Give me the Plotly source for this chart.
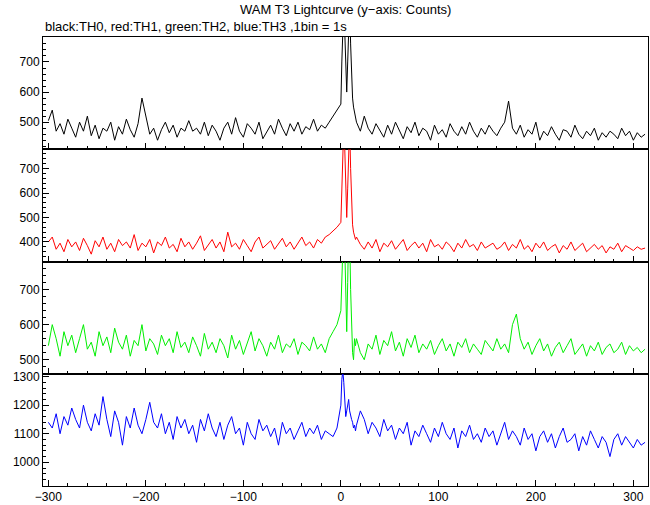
import numpy as np
import plotly.graph_objects as go
from plotly.subplots import make_subplots

# time bins: coarse before/after the burst, 1 s through the burst
t_pre = list(range(-300, 0, 4))
t_burst = list(range(0, 16))
t_post = list(range(16, 313, 4))

th0_pre = [505,540,470,495,460,510,480,450,500,470,520,455,490,445,480,470,500,440,485,460,510,475,450,495,580,520,460,480,440,475,500,465,490,450,480,470,
           505,470,480,460,500,455,490,470,440,480,500,460,515,470,450,495,480,460,500,445,470,490,460,510,480,455,495,470,500,460,485,475,510,470,490,480,500,520,540]
th0_burst = [560,700,850,900,800,640,600,700,880,900,760,620,580,550,530,520]
th0_post = [500,470,520,480,460,495,470,450,490,460,500,470,445,485,465,500,455,480,470,440,490,460,475,450,495,470,455,485,460,500,470,450,480,460,490,470,455,
            480,500,570,480,460,490,450,475,460,500,440,470,455,485,460,440,475,470,450,490,460,445,470,455,480,440,465,450,470,460,445,480,455,470,440,465,450,460]

th1_pre = [400,420,370,395,360,410,380,400,365,415,385,350,405,380,420,370,395,360,410,385,400,375,430,365,395,380,410,355,400,385,420,375,390,360,415,380,
           400,370,395,425,365,390,410,375,400,360,440,380,395,370,410,385,360,400,420,375,390,405,370,395,415,380,400,370,395,420,385,400,375,410,395,420,430,445,460]
th1_burst = [480,650,820,880,780,560,500,620,840,880,700,520,470,440,420,410]
th1_post = [420,390,370,400,375,410,360,395,380,405,370,390,410,365,385,400,375,395,360,410,380,390,370,400,385,360,395,375,410,380,390,365,400,375,385,395,370,
            380,400,365,390,375,410,370,385,360,395,375,400,365,380,390,355,385,370,400,365,380,395,360,375,390,370,385,355,380,370,395,360,385,375,365,380,370,375]

th2_pre = [540,600,560,510,580,540,570,520,560,600,530,550,510,580,540,565,520,590,550,530,570,510,555,540,600,525,560,545,515,570,540,560,520,580,535,550,
           520,565,540,510,575,530,550,520,560,540,505,570,530,555,515,545,580,525,560,540,510,550,530,570,520,545,535,560,515,550,540,525,565,530,545,520,560,580,600]
th2_burst = [640,800,900,900,820,640,580,720,880,860,700,560,520,500,560,540]
th2_post = [560,520,500,545,530,570,515,555,540,580,525,550,510,560,535,570,520,545,530,555,515,540,560,525,545,510,550,535,560,520,545,530,515,555,540,525,560,
            530,545,520,600,630,560,530,550,515,540,560,525,545,510,535,550,520,540,560,515,530,545,510,540,525,550,515,535,545,520,530,550,515,540,525,535,520,530]

th3_pre = [1140,1120,1170,1100,1160,1130,1190,1150,1120,1200,1140,1110,1170,1130,1230,1150,1090,1180,1140,1060,1160,1120,1190,1130,1100,1150,1210,1140,1120,1170,1100,1140,1080,1160,1120,1150,
           1100,1130,1070,1150,1110,1170,1120,1090,1140,1080,1130,1160,1100,1120,1060,1140,1100,1080,1150,1110,1130,1090,1120,1060,1140,1100,1120,1080,1110,1140,1090,1120,1100,1130,1080,1110,1100,1090,1120]
th3_burst = [1200,1290,1320,1280,1200,1160,1180,1200,1220,1180,1160,1150,1140,1120,1130,1110]
th3_post = [1130,1180,1150,1100,1140,1120,1090,1150,1110,1130,1080,1120,1100,1140,1060,1110,1090,1130,1100,1070,1120,1090,1140,1100,1080,1120,1050,1110,1090,1130,1080,1100,1070,1120,1090,1110,1060,
            1100,1140,1080,1110,1090,1060,1120,1080,1100,1040,1090,1110,1070,1100,1050,1090,1120,1070,1080,1100,1040,1090,1060,1110,1080,1050,1090,1070,1020,1080,1100,1060,1090,1070,1050,1080,1060,1070]

t = t_pre + t_burst + t_post
series = [
    (th0_pre + th0_burst + th0_post, 'black', [410, 783], [500, 600, 700]),
    (th1_pre + th1_burst + th1_post, 'red', [320, 779], [400, 500, 600, 700]),
    (th2_pre + th2_burst + th2_post, '#00ee00', [460, 780], [500, 600, 700]),
    (th3_pre + th3_burst + th3_post, 'blue', [917, 1310], [1000, 1100, 1200, 1300]),
]

fig = make_subplots(rows=4, cols=1, shared_xaxes=True, vertical_spacing=0)

for i, (y, col, yr, tv) in enumerate(series, start=1):
    fig.add_trace(go.Scatter(x=t, y=y, mode='lines', line=dict(color=col, width=1),
                             showlegend=False), row=i, col=1)
    fig.update_yaxes(range=yr, tickvals=tv, row=i, col=1)

fig.update_xaxes(range=[-305.5, 315], dtick=100, ticks='inside', ticklen=6,
                 minor=dict(dtick=20, ticks='inside', ticklen=3, tickcolor='black'),
                 showline=True, mirror=True, linecolor='black', linewidth=1, showgrid=False, zeroline=False,
                 tickcolor='black')
fig.update_yaxes(ticks='inside', ticklen=6, minor=dict(ticks='inside', ticklen=3, nticks=5, tickcolor='black'),
                 showline=True, mirror=True, linecolor='black', linewidth=1, showgrid=False, zeroline=False,
                 tickcolor='black')

fig.update_layout(
    width=650, height=505,
    margin=dict(l=43, r=2, t=37, b=19),
    plot_bgcolor='white', paper_bgcolor='white',
    font=dict(family='Liberation Sans, Arial', size=12, color='black'),
    annotations=[
        dict(text='WAM T3 Lightcurve (y\u2212axis: Counts)', xref='paper', yref='paper', x=0.5, y=1, yshift=28,
             showarrow=False, xanchor='center', yanchor='middle', font=dict(size=13)),
        dict(text='black:TH0, red:TH1, green:TH2, blue:TH3 ,1bin = 1s', xref='paper', yref='paper', x=0, y=1, yshift=11,
             showarrow=False, xanchor='left', yanchor='middle', font=dict(size=13)),
    ],
)

fig.write_html("out.html", config={'displayModeBar': False},
               post_script="document.body.style.margin='0';")
